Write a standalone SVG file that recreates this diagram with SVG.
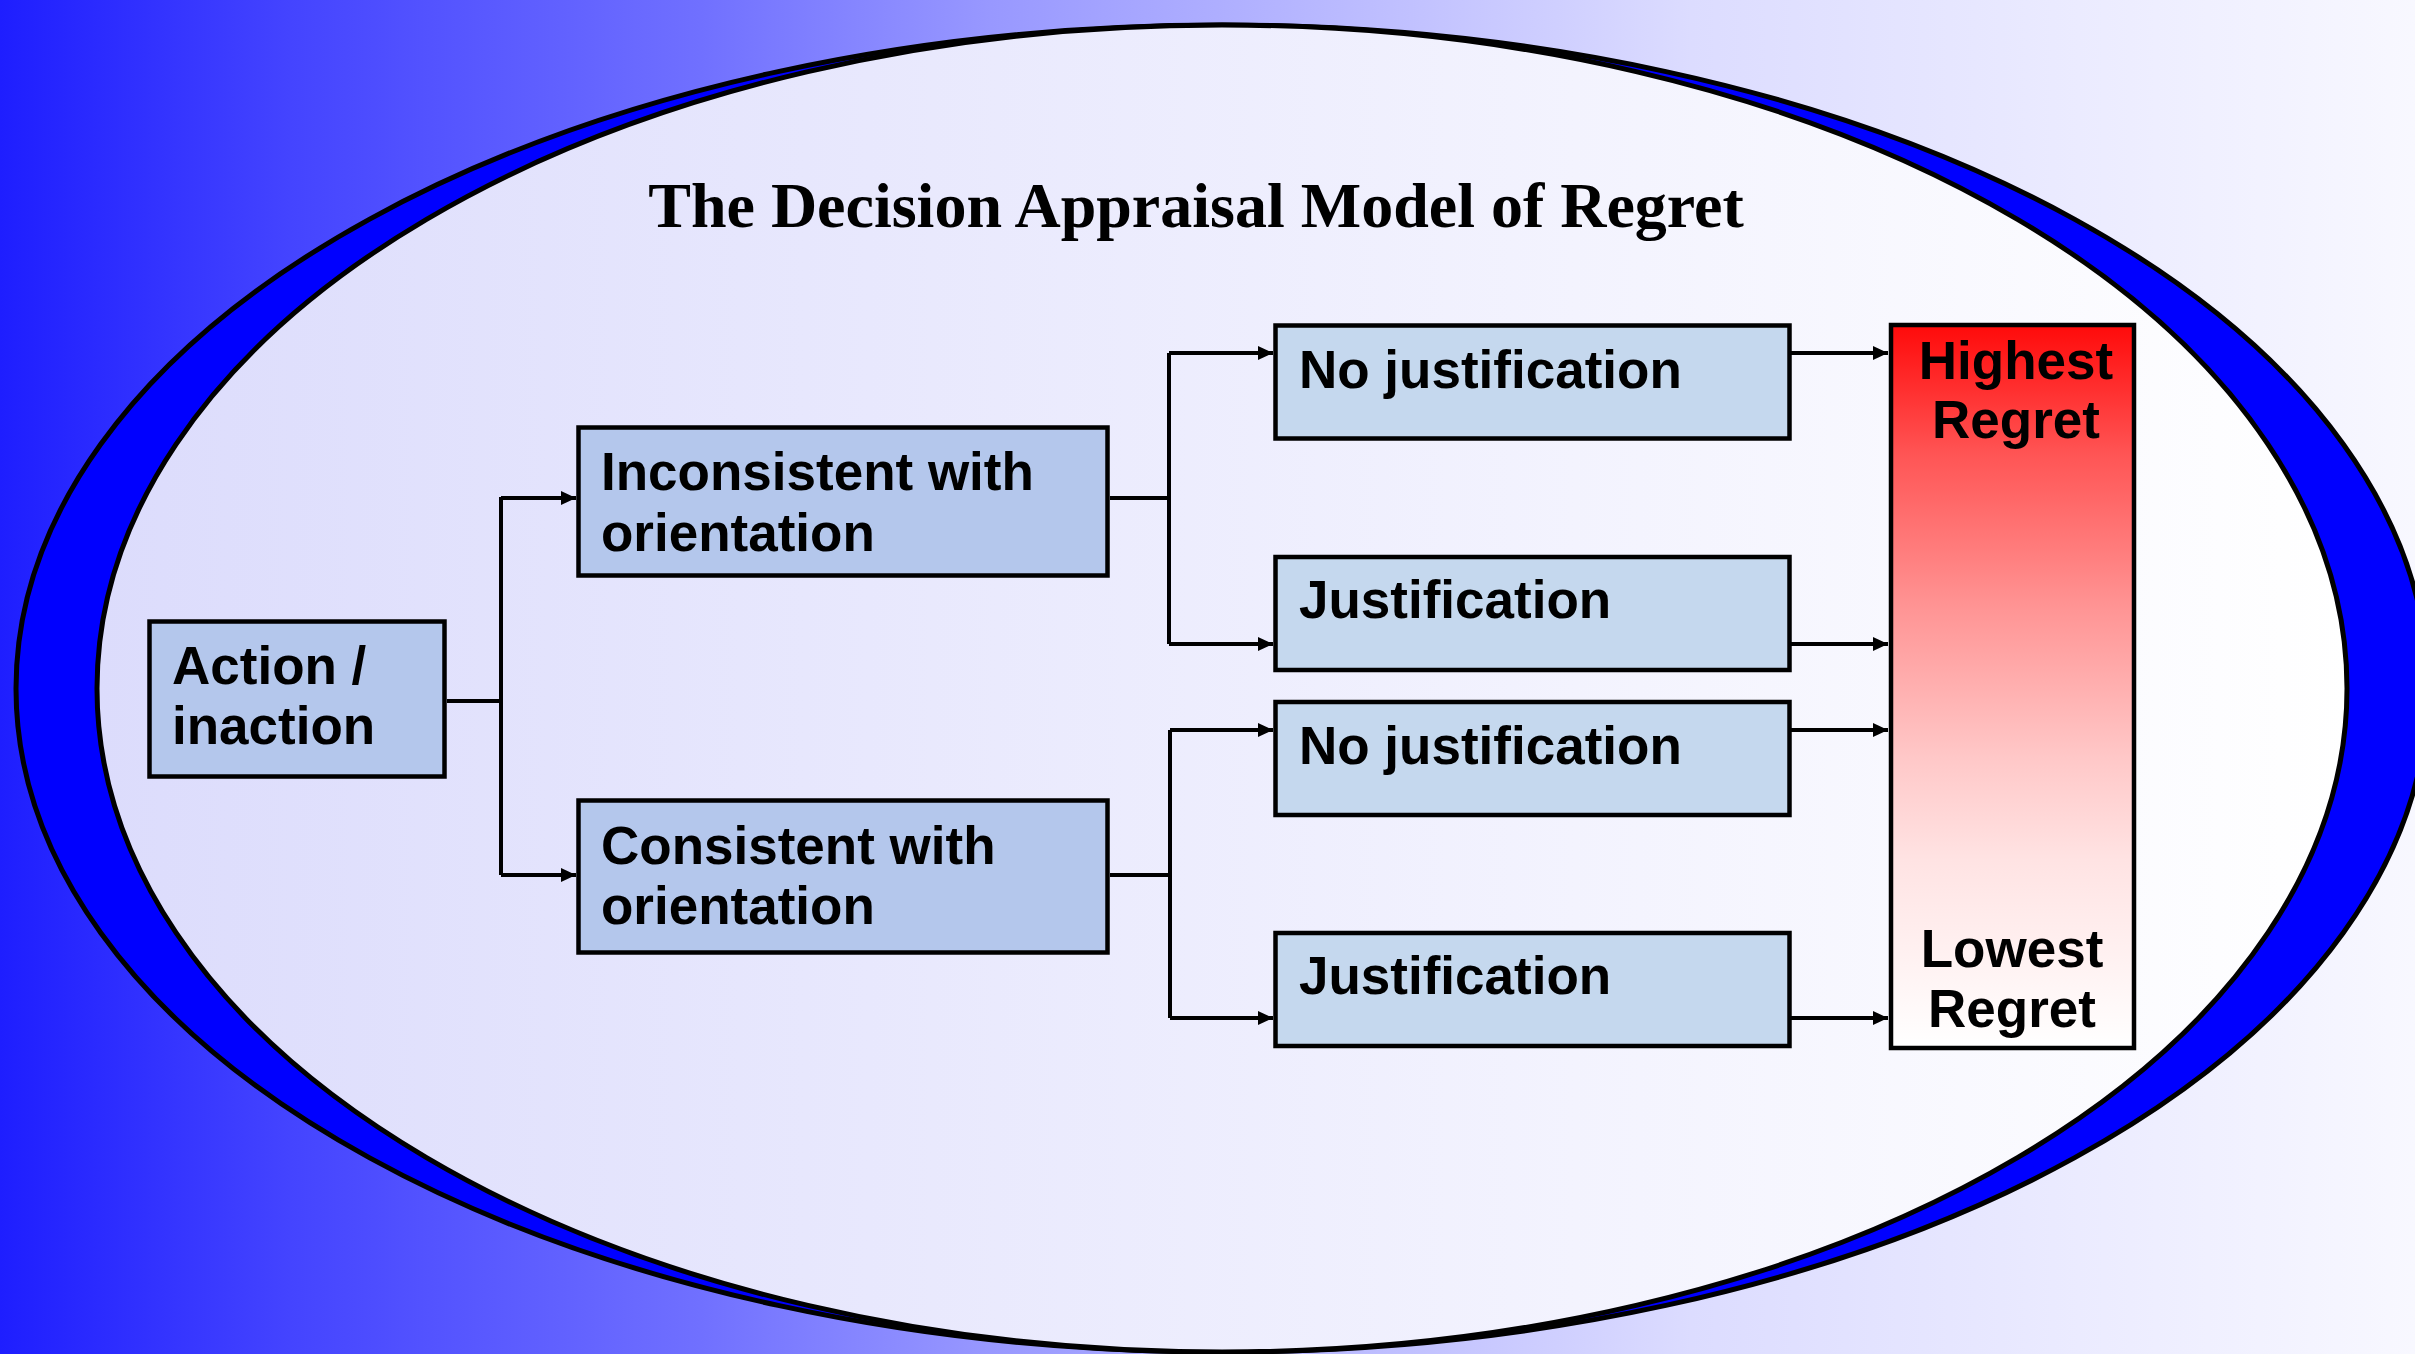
<svg xmlns="http://www.w3.org/2000/svg" width="2415" height="1354" viewBox="0 0 2415 1354">
  <defs>
    <linearGradient id="bg" gradientUnits="userSpaceOnUse" x1="0" y1="0" x2="2415" y2="0">
      <stop offset="0" stop-color="#1E1EFF"/>
      <stop offset="0.12" stop-color="#4444FF"/>
      <stop offset="0.29" stop-color="#7070FF"/>
      <stop offset="0.41" stop-color="#9898FF"/>
      <stop offset="0.58" stop-color="#C0C0FF"/>
      <stop offset="0.7" stop-color="#DCDCFF"/>
      <stop offset="1" stop-color="#F8F8FF"/>
    </linearGradient>
    <linearGradient id="inner" gradientUnits="userSpaceOnUse" x1="97" y1="0" x2="2347" y2="0">
      <stop offset="0" stop-color="#DCDCFC"/>
      <stop offset="1" stop-color="#FFFFFF"/>
    </linearGradient>
    <linearGradient id="regret" x1="0" y1="0" x2="0" y2="1">
      <stop offset="0" stop-color="#FF0A0A"/>
      <stop offset="0.18" stop-color="#FF5555"/>
      <stop offset="0.39" stop-color="#FF9494"/>
      <stop offset="0.6" stop-color="#FFC8C8"/>
      <stop offset="0.74" stop-color="#FFE3E3"/>
      <stop offset="0.88" stop-color="#FFF2F2"/>
      <stop offset="1" stop-color="#FFFFFF"/>
    </linearGradient>
    <marker id="arrow" markerUnits="userSpaceOnUse" markerWidth="16" markerHeight="14" refX="15" refY="7" orient="auto">
      <path d="M0,0 L15,7 L0,14 Z" fill="#000"/>
    </marker>
  </defs>
  <style>
    .box1 { fill: #B4C7EC; stroke: #000; stroke-width: 4.5; }
    .box2 { fill: #C5D8EE; stroke: #000; stroke-width: 4.5; }
    .lbl { font-family: "Liberation Sans", Arial, sans-serif; font-weight: bold; font-size: 53px; fill: #000; }
    .title { font-family: "Liberation Serif", "Times New Roman", serif; font-weight: bold; font-size: 64px; fill: #000; }
    .conn { fill: none; stroke: #000; stroke-width: 4; }
    .arr { fill: none; stroke: #000; stroke-width: 4; marker-end: url(#arrow); }
  </style>

  <rect x="0" y="0" width="2415" height="1354" fill="url(#bg)"/>
  <ellipse cx="1222" cy="688.5" rx="1206" ry="663.5" fill="#0000FF" stroke="#000" stroke-width="5"/>
  <ellipse cx="1222" cy="688.5" rx="1125" ry="663.5" fill="url(#inner)" stroke="#000" stroke-width="5"/>

  <text class="title" x="1196" y="227" text-anchor="middle">The Decision Appraisal Model of Regret</text>

  <g id="connectors">
    <path class="conn" d="M447,701 H501"/>
    <path class="conn" d="M501,497 V875"/>
    <path class="arr" d="M501,498 H576"/>
    <path class="arr" d="M501,875 H576"/>
    <path class="conn" d="M1110,498 H1169"/>
    <path class="conn" d="M1169,353 V644"/>
    <path class="arr" d="M1169,353 H1273"/>
    <path class="arr" d="M1169,644 H1273"/>
    <path class="conn" d="M1110,875 H1170"/>
    <path class="conn" d="M1170,730 V1018"/>
    <path class="arr" d="M1170,730 H1273"/>
    <path class="arr" d="M1170,1018 H1273"/>
    <path class="arr" d="M1791,353 H1888"/>
    <path class="arr" d="M1791,644 H1888"/>
    <path class="arr" d="M1791,730 H1888"/>
    <path class="arr" d="M1791,1018 H1888"/>
  </g>

  <g id="action">
    <rect class="box1" x="149.5" y="621.5" width="295" height="155"/>
    <text class="lbl" x="172" y="684">Action /</text>
    <text class="lbl" x="172" y="744">inaction</text>
  </g>
  <g id="inconsistent">
    <rect class="box1" x="578.5" y="427.5" width="529" height="148"/>
    <text class="lbl" x="601" y="490">Inconsistent with</text>
    <text class="lbl" x="601" y="551">orientation</text>
  </g>
  <g id="consistent">
    <rect class="box1" x="578.5" y="800.5" width="529" height="152"/>
    <text class="lbl" x="601" y="864">Consistent with</text>
    <text class="lbl" x="601" y="924">orientation</text>
  </g>
  <g id="nojust1">
    <rect class="box2" x="1275.5" y="325.5" width="514" height="113"/>
    <text class="lbl" x="1299" y="388">No justification</text>
  </g>
  <g id="just1">
    <rect class="box2" x="1275.5" y="557" width="514" height="113"/>
    <text class="lbl" x="1299" y="618">Justification</text>
  </g>
  <g id="nojust2">
    <rect class="box2" x="1275.5" y="702" width="514" height="113"/>
    <text class="lbl" x="1299" y="764">No justification</text>
  </g>
  <g id="just2">
    <rect class="box2" x="1275.5" y="933" width="514" height="113"/>
    <text class="lbl" x="1299" y="994">Justification</text>
  </g>
  <g id="regret-scale">
    <rect x="1891" y="325" width="243" height="723" fill="url(#regret)" stroke="#000" stroke-width="4.5"/>
    <text class="lbl" x="2016" y="379" text-anchor="middle">Highest</text>
    <text class="lbl" x="2016" y="438" text-anchor="middle">Regret</text>
    <text class="lbl" x="2012" y="967" text-anchor="middle">Lowest</text>
    <text class="lbl" x="2012" y="1027" text-anchor="middle">Regret</text>
  </g>
</svg>
